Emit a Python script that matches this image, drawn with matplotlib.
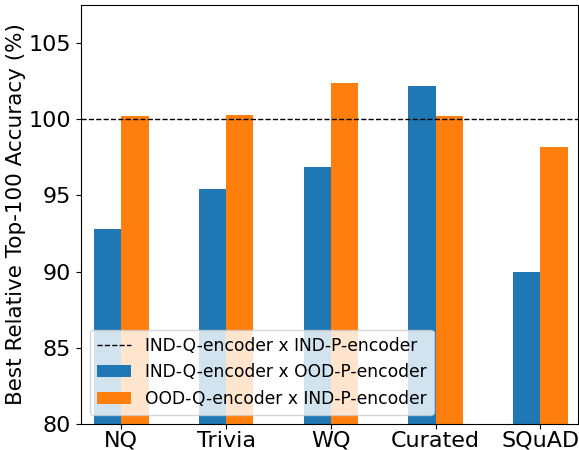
import matplotlib
matplotlib.use("Agg")
import matplotlib.pyplot as plt
import numpy as np

categories = ["NQ", "Trivia", "WQ", "Curated", "SQuAD"]
ind_q_ood_p = [92.8, 95.4, 96.85, 102.2, 90.0]
ood_q_ind_p = [100.2, 100.3, 102.4, 100.2, 98.2]
baseline = 100.0
labels = ["IND-Q-encoder x IND-P-encoder",
          "IND-Q-encoder x OOD-P-encoder",
          "OOD-Q-encoder x IND-P-encoder"]

fig = plt.figure(figsize=(5.79, 4.5), dpi=100)
ax = fig.add_axes([81/579, 26/450, (578-81)/579, (424-5)/450])
x = np.arange(len(categories))
w = 0.26
ax.axhline(baseline, color="black", linestyle="--", linewidth=1, label=labels[0])
ax.bar(x - w/2, ind_q_ood_p, w, color="#1f77b4", label=labels[1])
ax.bar(x + w/2, ood_q_ind_p, w, color="#ff7f0e", label=labels[2])
ax.set_ylim(80, 107.5)
ax.set_xlim(-0.385, 4.36)
ax.set_yticks([80, 85, 90, 95, 100, 105])
ax.set_xticks(x)
ax.set_xticklabels(categories)
ax.tick_params(labelsize=16)
ax.tick_params(axis="x", pad=1.5)
ax.set_ylabel("Best Relative Top-100 Accuracy (%)", fontsize=15.5, labelpad=2)
ax.legend(loc="lower left", fontsize=12.3, framealpha=0.8, borderaxespad=0.55)
fig.savefig("out.png", dpi=100)
